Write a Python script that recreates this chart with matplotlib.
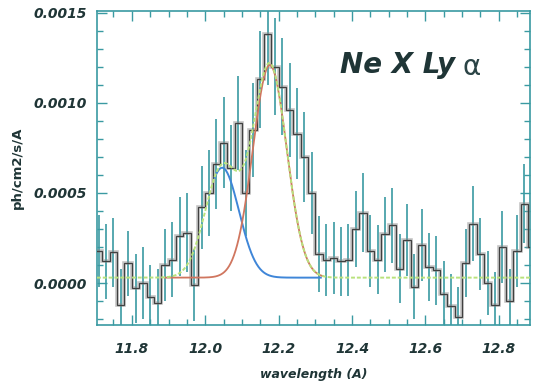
import numpy as np
import matplotlib
matplotlib.use("Agg")
import matplotlib.pyplot as plt
from matplotlib.ticker import MultipleLocator, FormatStrFormatter

# binned spectrum, 0.02 A bins starting at 11.70 A
bin_start = 11.70
bin_width = 0.02
flux = [0.00018, 0.00012, 0.00017, -0.00012, 0.00011, -0.00003, 0.00000, -0.00008, -0.00011, 0.00010,
        0.00013, 0.00026, 0.00028, -0.00001, 0.00042, 0.00050, 0.00066, 0.00078, 0.00064, 0.00089,
        0.00050, 0.00085, 0.00113, 0.00138, 0.00120, 0.00109, 0.00096, 0.00083, 0.00070, 0.00050,
        0.00016, 0.00013, 0.00014, 0.00012, 0.00013, 0.00030, 0.00039, 0.00018, 0.00013, 0.00027,
        0.00032, 0.00008, 0.00024, -0.00002, 0.00021, 0.00009, 0.00007, -0.00006, -0.00013, -0.00019,
        0.00011, 0.00033, 0.00016, 0.00000, -0.00012, 0.00020, -0.00010, 0.00018, 0.00044, 0.00020]
flux_err = [0.00020, 0.00021, 0.00019, 0.00020, 0.00018, 0.00019, 0.00020, 0.00018, 0.00019, 0.00020,
            0.00021, 0.00022, 0.00022, 0.00020, 0.00023, 0.00024, 0.00025, 0.00025, 0.00024, 0.00026,
            0.00024, 0.00026, 0.00027, 0.00028, 0.00027, 0.00027, 0.00026, 0.00025, 0.00025, 0.00023,
            0.00021, 0.00020, 0.00020, 0.00019, 0.00020, 0.00021, 0.00022, 0.00020, 0.00019, 0.00021,
            0.00021, 0.00019, 0.00020, 0.00018, 0.00020, 0.00019, 0.00019, 0.00018, 0.00018, 0.00017,
            0.00019, 0.00021, 0.00020, 0.00018, 0.00018, 0.00020, 0.00018, 0.00020, 0.00022, 0.00021]

# two gaussian components on a flat continuum
continuum = 0.00003
blue_center, blue_amp, blue_sigma = 12.046, 0.00061, 0.046
red_center, red_amp, red_sigma = 12.176, 0.00118, 0.046
blue_range = (12.026, 12.315)
red_range = (11.89, 12.32)

xlim = (11.705, 12.885)
ylim = (-0.000233, 0.00151)

ink = "#1f3536"
teal = "#3a9aa2"

flux = np.array(flux)
flux_err = np.array(flux_err)
edges = bin_start + bin_width * np.arange(len(flux) + 1)
centers = edges[:-1] + bin_width / 2


def gauss(x, c, a, s):
    return a * np.exp(-0.5 * ((x - c) / s) ** 2)


fig = plt.figure(figsize=(5.34, 3.85), dpi=100)
ax = fig.add_axes([0.1816, 0.1558, 0.8109, 0.8156])

# data: error bars + step histogram
ax.vlines(centers, flux - flux_err, flux + flux_err, color=teal, lw=1.2, zorder=2)
ax.stairs(flux, edges, color="#8a8a8a", lw=2.6, alpha=0.5, zorder=3)
ax.stairs(flux, edges, color="#404040", lw=0.9, zorder=4)

# model components
xb = np.linspace(*blue_range, 300)
ax.plot(xb, continuum + gauss(xb, blue_center, blue_amp, blue_sigma), color="#3f86d8", lw=1.4, zorder=5)
xr = np.linspace(*red_range, 300)
ax.plot(xr, continuum + gauss(xr, red_center, red_amp, red_sigma), color="#d0765f", lw=1.3, zorder=5)
xt = np.linspace(*xlim, 600)
total = continuum + gauss(xt, blue_center, blue_amp, blue_sigma) + gauss(xt, red_center, red_amp, red_sigma)
ax.plot(xt, total, color="#b9e27c", lw=1.4, ls=(0, (2, 1)), zorder=6)

ax.set_xlim(*xlim)
ax.set_ylim(*ylim)

ax.xaxis.set_major_locator(MultipleLocator(0.2))
ax.xaxis.set_minor_locator(MultipleLocator(0.05))
ax.yaxis.set_major_locator(MultipleLocator(0.0005))
ax.yaxis.set_minor_locator(MultipleLocator(0.0001))
ax.xaxis.set_major_formatter(FormatStrFormatter("%.1f"))
ax.yaxis.set_major_formatter(FormatStrFormatter("%.4f"))

ax.tick_params(which="both", direction="in", top=True, right=True, color=teal, width=1)
ax.tick_params(which="major", length=7, pad=12)
ax.tick_params(which="minor", length=4)
for lab in ax.get_xticklabels() + ax.get_yticklabels():
    lab.set_fontweight("bold")
    lab.set_fontstyle("italic")
    lab.set_fontsize(10)
    lab.set_color(ink)
ax.tick_params(axis="y", pad=7)

for sp in ax.spines.values():
    sp.set_color(teal)
    sp.set_linewidth(1.2)

ax.set_xlabel("wavelength (A)", fontsize=9, fontweight="bold", fontstyle="italic", color=ink, labelpad=9)
fig.text(0.033, 0.5636, "ph/cm2/s/A", rotation=90, fontsize=9.5, fontweight="bold",
         color=ink, ha="center", va="center")

ax.text(0.561, 0.828, "Ne X Ly", transform=ax.transAxes, fontsize=20, fontweight="bold",
        fontstyle="italic", color=ink, ha="left", va="center")
ax.text(0.843, 0.822, "\u03b1", transform=ax.transAxes, fontsize=20, color="#2b4446",
        ha="left", va="center")

fig.savefig("out.png", dpi=100)
